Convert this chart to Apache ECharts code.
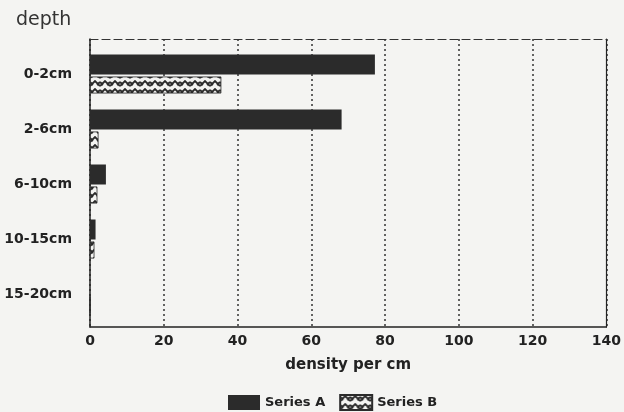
<!DOCTYPE html>
<html><head><meta charset="utf-8">
<script src="https://cdn.jsdelivr.net/npm/echarts@6/dist/echarts.min.js"></script>
<style>html,body{margin:0;padding:0;background:#f4f4f2}#c{width:624px;height:412px}</style>
</head><body><div id="c"></div>
<script>
const categories = ['0-2cm', '2-6cm', '6-10cm', '10-15cm', '15-20cm'];
const seriesA = [77, 68, 4.3, 1.5, 0];
const seriesB = [35.5, 2.3, 2, 1.2, 0];
const xTicks = [0, 20, 40, 60, 80, 100, 120, 140];

function makePattern() {
  const c = document.createElement('canvas');
  c.width = 10; c.height = 8;
  const g = c.getContext('2d');
  g.fillStyle = '#f4f4f2'; g.fillRect(0, 0, 10, 8);
  g.strokeStyle = '#2a2a2a'; g.lineWidth = 1.8;
  g.beginPath();
  g.moveTo(0, 6); g.lineTo(5, 1); g.lineTo(10, 6);
  g.moveTo(0, 2); g.lineTo(3, 5);
  g.moveTo(7, 5); g.lineTo(10, 2);
  g.stroke();
  return c;
}
const pat = { image: makePattern(), repeat: 'repeat' };
const font = 'DejaVu Sans';
const bold = { fontFamily: font, fontWeight: 'bold', fontSize: 14, color: '#222' };
const chart = echarts.init(document.getElementById('c'));
chart.setOption({
  backgroundColor: '#f4f4f2',
  animation: false,
  textStyle: { fontFamily: font, color: '#222' },
  title: { text: 'depth', left: 11, top: 6, textStyle: { fontFamily: font, fontWeight: 'normal', fontSize: 19, color: '#333' } },
  grid: [
    { left: 90, right: 16, top: 39, bottom: 85 },
    { left: 90, right: 16, top: 46.5, bottom: 90.5 }
  ],
  legend: {
    top: 389, left: 223, itemWidth: 32, itemHeight: 15, itemGap: 14,
    icon: 'rect',
    textStyle: Object.assign({}, bold, { fontSize: 13 }),
    data: ['Series A', 'Series B']
  },
  xAxis: [{
    gridIndex: 0, type: 'value', min: 0, max: 140, interval: 20, position: 'bottom',
    axisLine: { show: true, onZero: false, lineStyle: { color: '#222', width: 1.5 } },
    axisTick: { show: false },
    axisLabel: Object.assign({}, bold, { margin: 7, formatter: v => xTicks.includes(v) ? String(v) : '' }),
    splitLine: { show: true, lineStyle: { color: '#333', type: [2, 3], width: 1.5 } },
    name: 'density per cm', nameLocation: 'middle', nameGap: 31,
    nameTextStyle: Object.assign({}, bold, { fontSize: 15 })
  }, {
    gridIndex: 0, type: 'value', position: 'top', min: 0, max: 140, interval: 20,
    axisLine: { show: true, onZero: false, lineStyle: { color: '#333', width: 1.2, type: [8, 4] } },
    axisTick: { show: false }, axisLabel: { show: false }, splitLine: { show: false }
  }, {
    gridIndex: 1, type: 'value', min: 0, max: 140, show: false
  }],
  yAxis: [{
    gridIndex: 0, type: 'value', min: 0, max: 1, position: 'left',
    axisLine: { show: true, onZero: false, lineStyle: { color: '#222', width: 1.5 } },
    axisTick: { show: false }, axisLabel: { show: false }, splitLine: { show: false }
  }, {
    gridIndex: 0, type: 'value', min: 0, max: 1, position: 'right',
    axisLine: { show: true, onZero: false, lineStyle: { color: '#222', width: 1.2 } },
    axisTick: { show: false }, axisLabel: { show: false }, splitLine: { show: false }
  }, {
    gridIndex: 1, type: 'category', data: categories, inverse: true,
    axisLine: { show: false }, axisTick: { show: false },
    axisLabel: Object.assign({}, bold, { margin: 18, padding: [7, 0, 0, 0] })
  }],
  series: [
    { name: 'Series A', type: 'bar', xAxisIndex: 2, yAxisIndex: 2, data: seriesA, barWidth: 20, barGap: '10%',
      itemStyle: { color: '#2b2b2b' } },
    { name: 'Series B', type: 'bar', xAxisIndex: 2, yAxisIndex: 2, data: seriesB, barWidth: 17, barGap: '10%',
      itemStyle: { color: pat, borderColor: '#2b2b2b', borderWidth: 0.8 } }
  ]
});
</script></body></html>
